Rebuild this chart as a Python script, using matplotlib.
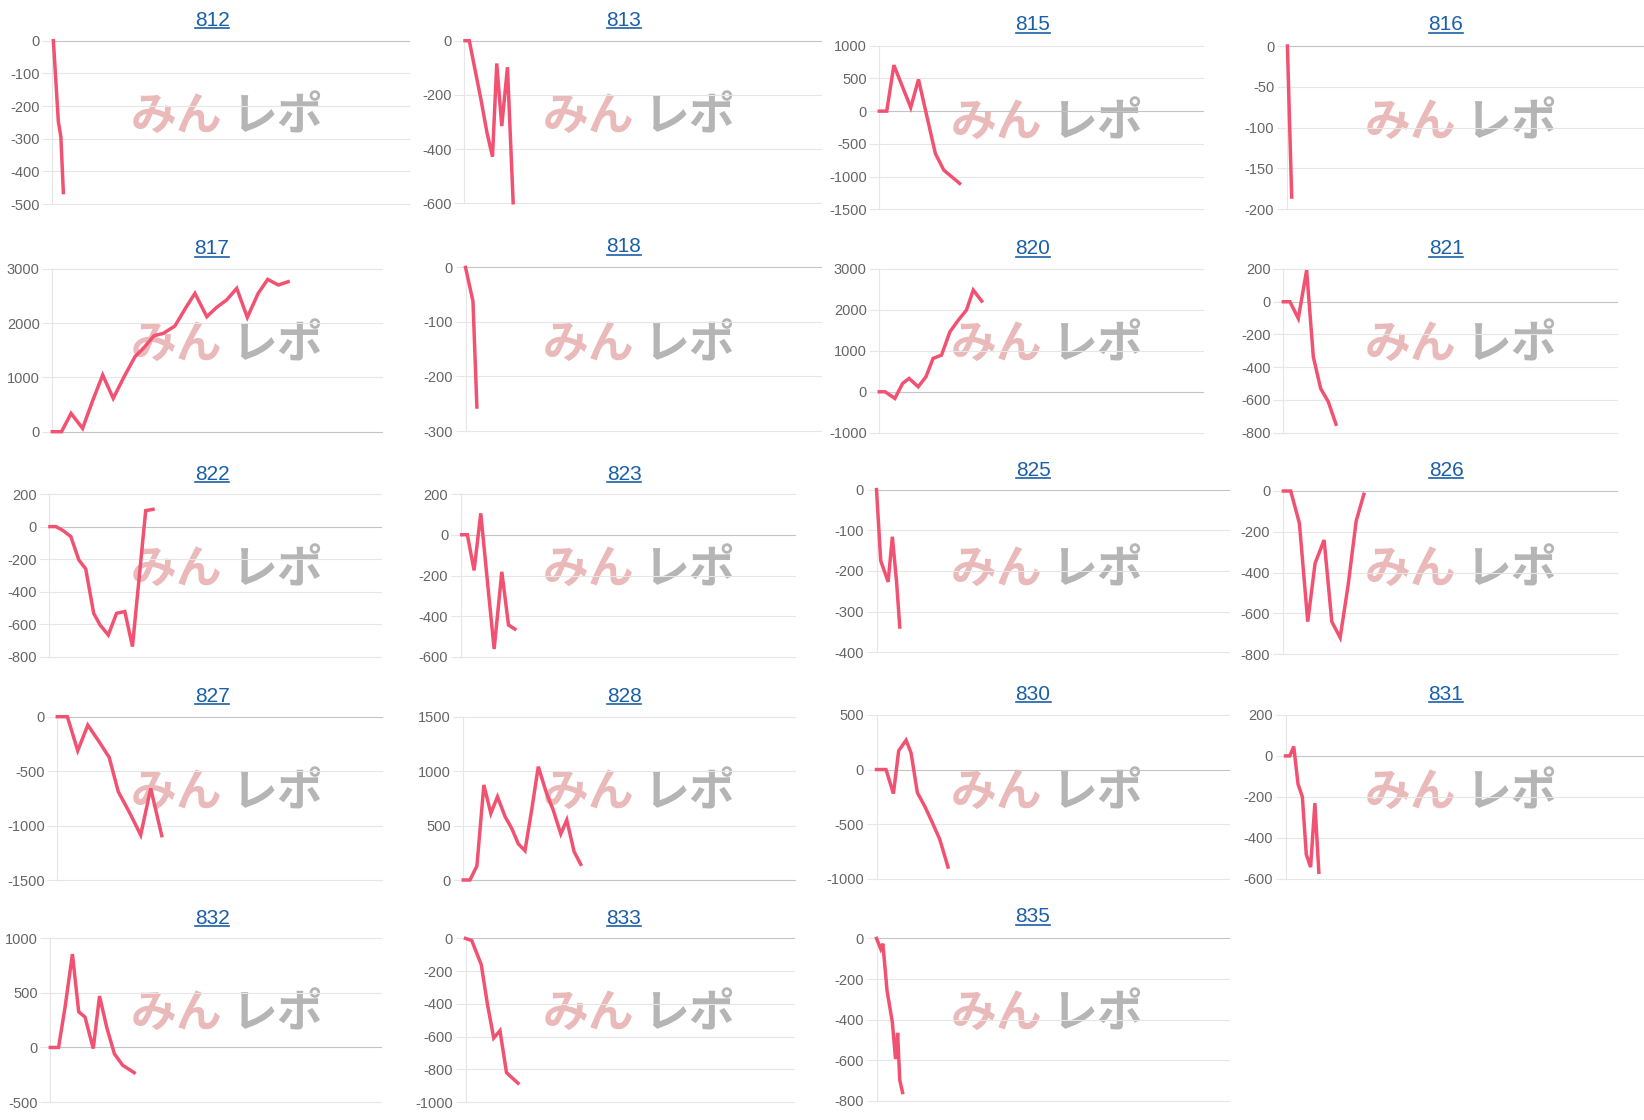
import matplotlib
matplotlib.use("Agg")
import matplotlib.pyplot as plt
from matplotlib.lines import Line2D
from matplotlib.transforms import IdentityTransform

W, H = 1644, 1120

# machine numbers shown as panel titles
machines = ["812", "813", "815", "816", "817", "818", "820", "821", "822", "823",
            "825", "826", "827", "828", "830", "831", "832", "833", "835"]

# x = position along the game axis (% of axis length), y = coin difference
x812 = [0.3, 1.7, 2.4, 3.1]
y812 = [0, -248, -294, -465]
x813 = [0.2, 1.4, 4.7, 6.4, 7.9, 9.1, 10.5, 12.1, 13.7]
y813 = [0, 0, -219, -342, -428, -84, -315, -98, -598]
x815 = [0, 2.3, 4.5, 9.7, 12.1, 17.3, 19.9, 24.8]
y815 = [0, 0, 703, 56, 484, -647, -901, -1105]
x816 = [0.2, 1.4]
y816 = [0, -185]
x817 = [0, 2.8, 5.7, 9.2, 12.3, 15.3, 18.5, 21.8, 25.1, 27.8, 30.9, 33.7, 37.2, 40.6,
        43.3, 46.9, 49.9, 52.9, 56.0, 59.2, 62.5, 65.4, 68.6, 71.6]
y817 = [0, 0, 338, 61, 580, 1045, 615, 1014, 1383, 1549, 1770, 1813, 1948, 2293,
        2551, 2121, 2293, 2428, 2643, 2108, 2551, 2809, 2705, 2766]
x818 = [0, 2.1, 3.2]
y818 = [0, -62, -256]
x820 = [0, 1.8, 4.8, 7.2, 9.2, 12.0, 14.4, 16.6, 19.2, 21.8, 24.4, 26.9, 29.0, 31.6]
y820 = [0, 0, -163, 204, 326, 122, 367, 815, 896, 1466, 1752, 1996, 2485, 2216]
x821 = [0, 2.0, 4.5, 7.0, 9.0, 11.2, 13.5, 15.8]
y821 = [0, 0, -102, 193, -336, -530, -611, -748]
x822 = [0.2, 2.0, 4.2, 6.5, 8.9, 11.0, 13.4, 15.3, 17.8, 20.3, 22.8, 25.1, 29.1, 31.3]
y822 = [0, 0, -25, -61, -204, -260, -532, -603, -665, -532, -521, -736, 98, 106]
x823 = [0.3, 2.0, 4.0, 6.0, 8.0, 10.0, 12.3, 14.3, 16.2]
y823 = [0, 0, -175, 105, -230, -561, -182, -443, -463]
x825 = [0, 1.2, 3.3, 4.5, 5.7, 6.6]
y825 = [0, -175, -227, -116, -227, -338]
x826 = [0.2, 2.4, 5.0, 7.5, 9.7, 12.4, 14.7, 17.2, 19.6, 22.0, 24.3]
y826 = [0, 0, -158, -640, -354, -240, -640, -718, -460, -147, -16]
x827 = [0, 3.1, 6.3, 9.4, 12.9, 16.0, 18.8, 22.4, 25.7, 28.8, 32.2]
y827 = [0, 0, -312, -77, -230, -374, -689, -888, -1087, -658, -1093]
x828 = [0, 2.0, 4.1, 6.2, 8.3, 10.3, 12.6, 14.6, 16.6, 18.6, 20.6, 22.6, 25.1, 27.1,
        29.4, 31.2, 33.4, 35.4]
y828 = [0, 0, 129, 873, 612, 765, 582, 474, 331, 269, 640, 1041, 796, 643,
        423, 551, 260, 144]
x830 = [0, 2.7, 4.8, 6.3, 8.4, 9.8, 11.6, 13.7, 15.5, 17.9, 20.3]
y830 = [0, 0, -221, 173, 269, 154, -212, -337, -462, -635, -894]
x831 = [0, 1.2, 2.3, 3.5, 4.7, 5.8, 7.0, 8.2, 9.3]
y831 = [0, 0, 46, -138, -200, -482, -544, -231, -569]
x832 = [0, 2.5, 4.5, 6.7, 8.6, 10.5, 13.0, 14.9, 17.1, 19.4, 21.9, 25.4]
y832 = [0, 0, 375, 856, 327, 279, -10, 471, 183, -58, -163, -231]
x833 = [0, 1.9, 4.8, 6.7, 8.6, 10.5, 12.5, 16.0]
y833 = [0, -13, -160, -404, -609, -564, -821, -885]
x835 = [0, 1.2, 1.8, 3.0, 4.5, 5.4, 6.0, 6.6, 7.4]
y835 = [0, -52, -26, -258, -413, -594, -465, -697, -759]

# y tick values of each panel
ticks812 = [0, -100, -200, -300, -400, -500]
ticks813 = [0, -200, -400, -600]
ticks815 = [1000, 500, 0, -500, -1000, -1500]
ticks816 = [0, -50, -100, -150, -200]
ticks817 = [3000, 2000, 1000, 0]
ticks818 = [0, -100, -200, -300]
ticks820 = [3000, 2000, 1000, 0, -1000]
ticks821 = [200, 0, -200, -400, -600, -800]
ticks822 = [200, 0, -200, -400, -600, -800]
ticks823 = [200, 0, -200, -400, -600]
ticks825 = [0, -100, -200, -300, -400]
ticks826 = [0, -200, -400, -600, -800]
ticks827 = [0, -500, -1000, -1500]
ticks828 = [1500, 1000, 500, 0]
ticks830 = [500, 0, -500, -1000]
ticks831 = [200, 0, -200, -400, -600]
ticks832 = [1000, 500, 0, -500]
ticks833 = [0, -200, -400, -600, -800, -1000]
ticks835 = [0, -200, -400, -600, -800]

series = [
    (x812, y812, ticks812), (x813, y813, ticks813), (x815, y815, ticks815),
    (x816, y816, ticks816), (x817, y817, ticks817), (x818, y818, ticks818),
    (x820, y820, ticks820), (x821, y821, ticks821), (x822, y822, ticks822),
    (x823, y823, ticks823), (x825, y825, ticks825), (x826, y826, ticks826),
    (x827, y827, ticks827), (x828, y828, ticks828), (x830, y830, ticks830),
    (x831, y831, ticks831), (x832, y832, ticks832), (x833, y833, ticks833),
    (x835, y835, ticks835),
]

# layout in pixels: plot area (left, right, top, bottom), title centre, watermark corner
rects = [
    (52.3, 409, 40.7, 204), (464.3, 821, 40.7, 203.3), (879.3, 1203.3, 45.7, 209.3),
    (1286.7, 1643, 46, 209.3), (52.3, 381.7, 269, 431.7), (465.5, 821, 267.4, 431),
    (879.3, 1203.3, 269, 432.7), (1283.3, 1616.7, 269, 432.7), (49.3, 380.6, 494, 657),
    (460.7, 795, 494, 657), (876.5, 1228.8, 489.6, 652.2), (1282.7, 1616.7, 491, 654.3),
    (57.3, 381.7, 716.7, 880), (463.3, 795, 716.7, 880), (876.5, 1228.8, 715, 878.6),
    (1285.5, 1644, 715, 878.6), (50.3, 380.6, 938.4, 1102), (465.5, 793.7, 938.4, 1102),
    (876.5, 1228.8, 938.4, 1100.9),
]
title_pos = [
    (212, 20), (624, 20), (1033, 25), (1446, 25), (212, 249), (624, 247), (1033, 249),
    (1446, 249), (212, 474), (624, 474), (1033, 470), (1446, 470), (212, 696), (624, 696),
    (1033, 694), (1446, 694), (212, 918), (624, 918), (1033, 917),
]
wm_pos = [
    (131, 94), (543, 94), (951, 100), (1365, 100), (131, 322), (543, 322), (951, 322),
    (1365, 322), (131, 547), (543, 547), (951, 547), (1365, 547), (131, 770), (543, 770),
    (951, 770), (1365, 770), (131, 991), (543, 991), (951, 991),
]

LINE = "#f25272"
GRID = "#e6e6e6"
ZERO = "#c4c4c4"
TICK = "#666666"
LINK = "#1b5fa8"
CJK = ["Noto Sans CJK JP", "DejaVu Sans"]

plt.rcParams["font.family"] = ["Liberation Sans", "DejaVu Sans"]

fig = plt.figure(figsize=(W / 100, H / 100), dpi=100)
fig.patch.set_facecolor("white")

titles = []
for i, name in enumerate(machines):
    xs, ys, ticks = series[i]
    l, r, t, b = rects[i]
    ax = fig.add_axes([l / W, 1 - b / H, (r - l) / W, (b - t) / H])
    ax.set_facecolor("none")
    ax.set_xlim(0, 100)
    ax.set_ylim(min(ticks), max(ticks))
    ax.set_yticks(ticks)
    ax.set_yticklabels([str(v) for v in ticks])
    ax.set_xticks([])
    for s in ["top", "right", "bottom"]:
        ax.spines[s].set_visible(False)
    ax.spines["left"].set_color(GRID)
    ax.spines["left"].set_linewidth(0.8)
    ax.tick_params(axis="y", length=7.5, width=0.8, color=GRID, pad=1.5,
                   labelsize=10.5, labelcolor=TICK)
    for v in ticks:
        ax.axhline(v, color=ZERO if v == 0 else GRID, lw=0.8, zorder=1, clip_on=False)
    for tl, v in zip(ax.yaxis.get_major_ticks(), ticks):
        if v == 0:
            tl.tick1line.set_color(ZERO)
    ax.plot(xs, ys, color=LINE, lw=2.5, solid_joinstyle="miter", zorder=3, clip_on=False)

    cx, cy = title_pos[i]
    titles.append(fig.text(cx / W, 1 - cy / H, name, ha="center", va="center",
                           fontsize=15, color=LINK))

    # site logo watermark behind every chart
    wx, wy = wm_pos[i]
    fig.text(wx / W, 1 - (wy + 23) / H, "みん", ha="left", va="center", fontsize=33,
             color="#eab9b9", weight="bold", family=CJK, zorder=-1)
    fig.text((wx + 100) / W, 1 - (wy + 23) / H, "レポ", ha="left", va="center", fontsize=33,
             color="#b5b5b5", weight="bold", family=CJK, zorder=-1)

# underline the titles, they are links on the page
fig.canvas.draw()
renderer = fig.canvas.get_renderer()
for t in titles:
    bb = t.get_window_extent(renderer)
    fig.add_artist(Line2D([bb.x0, bb.x1], [bb.y0 + 2, bb.y0 + 2], transform=IdentityTransform(),
                          color=LINK, lw=1.2))

fig.savefig("out.png", dpi=100, facecolor="white")
